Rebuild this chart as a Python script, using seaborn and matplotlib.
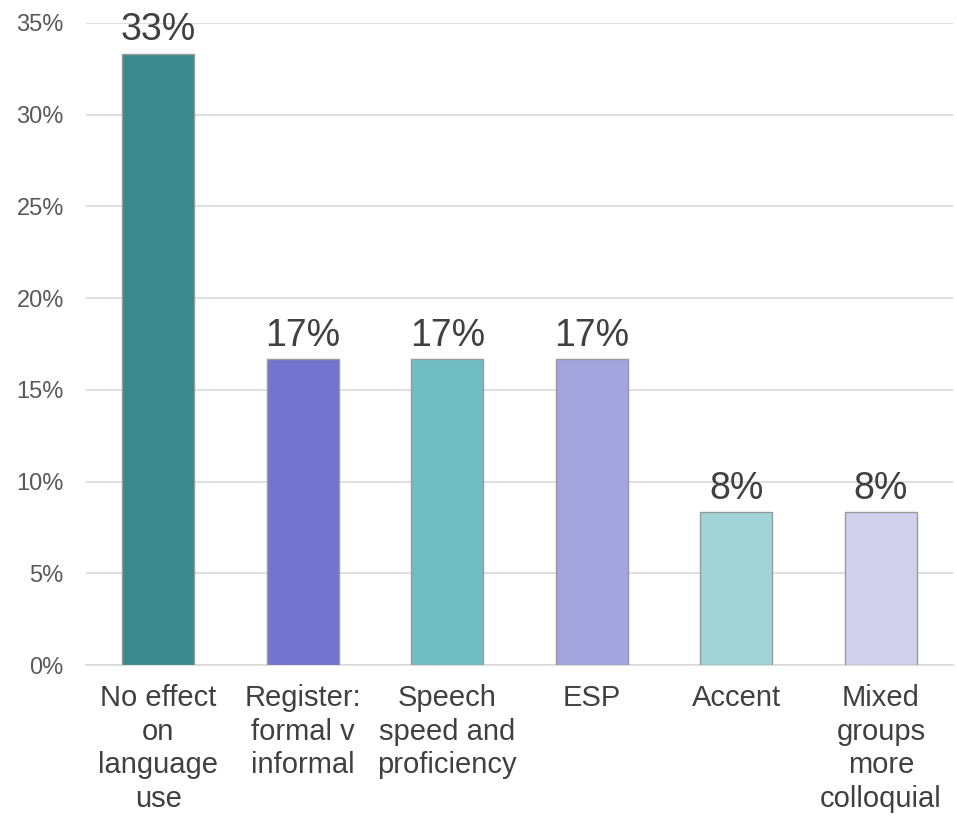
import matplotlib
matplotlib.use("Agg")
import matplotlib.pyplot as plt
import seaborn as sns
import pandas as pd
import numpy as np

categories = ["No effect\non\nlanguage\nuse", "Register:\nformal v\ninformal", "Speech\nspeed and\nproficiency",
              "ESP", "Accent", "Mixed\ngroups\nmore\ncolloquial"]
shares = [33.33, 16.67, 16.67, 16.67, 8.33, 8.33]
bar_labels = ["33%", "17%", "17%", "17%", "8%", "8%"]
colors = ["#3B898D", "#7474CF", "#70BEC3", "#A4A4DF", "#A0D4D7", "#D1D1EE"]

df = pd.DataFrame({"cat": categories, "share": shares})

sns.set_theme(style="white")
plt.rcParams["font.family"] = ["Liberation Sans", "DejaVu Sans"]

fig = plt.figure(figsize=(9.57, 8.19), dpi=100)
ax = fig.add_axes([0.0899, 0.188, 0.906, 0.784])

sns.barplot(data=df, x="cat", y="share", hue="cat", palette=colors, legend=False,
            saturation=1, width=0.5, edgecolor="#999999", linewidth=1, ax=ax, zorder=3)

for i, (v, lab) in enumerate(zip(shares, bar_labels)):
    ax.text(i, v + 0.3, lab, ha="center", va="bottom", fontsize=27, color="#404040", zorder=4)

ax.set_ylim(0, 35)
ax.set_xlim(-0.5, len(categories) - 0.5)
ax.set_yticks(np.arange(0, 36, 5))
ax.set_yticklabels([f"{t}%" for t in range(0, 36, 5)])
ax.yaxis.grid(True, color="#D9D9D9", linewidth=1.2, zorder=0)
ax.set_xlabel("")
ax.set_ylabel("")

for s in ["left", "right", "top"]:
    ax.spines[s].set_visible(False)
ax.spines["bottom"].set_color("#D9D9D9")
ax.spines["bottom"].set_linewidth(1.2)

ax.tick_params(axis="y", labelsize=17, labelcolor="#595959", length=0, pad=16)
ax.tick_params(axis="x", which="major", labelsize=21, labelcolor="#404040", length=0, pad=14)
ax.set_xticks(np.arange(-0.5, len(categories), 1), minor=True)
ax.tick_params(axis="x", which="minor", length=8, color="#D9D9D9", width=1.2, direction="out")
for t in ax.get_xticklabels():
    t.set_linespacing(1.25)

fig.savefig("out.png", dpi=100)
